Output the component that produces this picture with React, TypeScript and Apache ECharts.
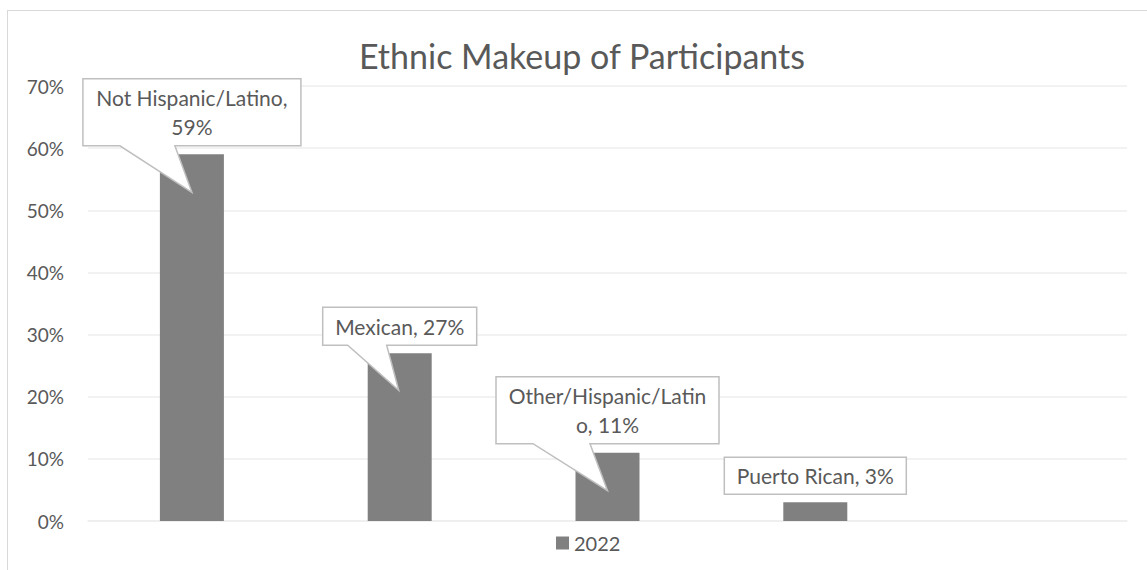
import React, { useEffect, useRef } from "react";
import * as echarts from "echarts";

const categories = ["Not Hispanic/Latino", "Mexican", "Other/Hispanic/Latino", "Puerto Rican", ""];
const values2022: (number | null)[] = [59, 27, 11, 3, null];
const seriesName = "2022";
const yTicks = { min: 0, max: 70, interval: 10 };

// callout layout relative to the top-centre of each bar (px)
const calloutLayout = [
  { box: [-109, -75.6, 218, 67], wedge: [-72, -17], tip: [0, 38], wrapAt: 20 },
  { box: [-77, -46, 154, 38], wedge: [-52, -13], tip: [-1, 37], wrapAt: 0 },
  { box: [-111.5, -76, 223, 67], wedge: [-74.5, -17.5], tip: [0, 38], wrapAt: 20 },
  { box: [-91, -45, 182, 37], wedge: null, tip: null, wrapAt: 0 },
];

const FONT = "Lato, 'Open Sans', sans-serif";
const TEXT = "#595959";

function labelText(i: number) {
  const full = `${categories[i]}, ${values2022[i]}%`;
  const w = calloutLayout[i].wrapAt;
  if (!w) return full;
  return full.slice(0, w) + "\n" + full.slice(w).replace(/^\s+/, "");
}

export default function App() {
  const ref = useRef<HTMLDivElement>(null);
  useEffect(() => {
    if (!ref.current) return;
    const chart = echarts.init(ref.current, undefined, { renderer: "svg" });
    const calloutData = values2022
      .map((v, i) => (v == null ? null : [i, v]))
      .filter((d) => d != null) as number[][];
    chart.setOption({
      animation: false,
      title: {
        text: "Ethnic Makeup of Participants",
        left: 577,
        top: 33,
        textAlign: "center",
        textStyle: { fontSize: 34, fontWeight: "normal", color: TEXT, fontFamily: FONT },
      },
      legend: {
        data: [seriesName],
        left: 551,
        top: 528,
        icon: "rect",
        itemWidth: 13,
        itemHeight: 13,
        textStyle: { fontSize: 20, color: TEXT, fontFamily: FONT },
      },
      grid: { left: 88, right: 20, top: 86, bottom: 49, containLabel: false },
      xAxis: {
        type: "category",
        data: categories,
        axisLabel: { show: false },
        axisTick: { show: false },
        axisLine: { show: true, lineStyle: { color: "#eeeeee", width: 1.5 } },
      },
      yAxis: {
        type: "value",
        min: yTicks.min,
        max: yTicks.max,
        interval: yTicks.interval,
        axisLabel: { formatter: "{value}%", fontSize: 19, color: TEXT, fontFamily: FONT, margin: 24 },
        axisLine: { show: false },
        axisTick: { show: false },
        splitLine: { lineStyle: { color: "#eeeeee", width: 1.5 } },
      },
      series: [
        {
          name: seriesName,
          type: "bar",
          data: values2022,
          barWidth: 64,
          itemStyle: { color: "#808080" },
          z: 2,
        },
        {
          type: "custom",
          name: "callouts",
          coordinateSystem: "cartesian2d",
          data: calloutData,
          z: 5,
          silent: true,
          clip: false,
          renderItem: (params: any, api: any) => {
            const idx = params.dataIndex;
            const pt = api.coord([api.value(0), api.value(1)]);
            const L = calloutLayout[idx];
            const [bx, by, bw, bh] = L.box;
            const x0 = pt[0] + bx;
            const y0 = pt[1] + by;
            const x1 = x0 + bw;
            const y1 = y0 + bh;
            const points: number[][] = [[x0, y0], [x1, y0], [x1, y1]];
            if (L.wedge && L.tip) {
              points.push([pt[0] + L.wedge[1], y1]);
              points.push([pt[0] + L.tip[0], pt[1] + L.tip[1]]);
              points.push([pt[0] + L.wedge[0], y1]);
            }
            points.push([x0, y1]);
            return {
              type: "group",
              children: [
                {
                  type: "polygon",
                  shape: { points },
                  style: { fill: "#ffffff", stroke: "#bfbfbf", lineWidth: 1.5 },
                },
                {
                  type: "text",
                  style: {
                    text: labelText(idx),
                    x: (x0 + x1) / 2,
                    y: (y0 + y1) / 2,
                    align: "center",
                    verticalAlign: "middle",
                    fontSize: 21,
                    fontFamily: FONT,
                    fill: TEXT,
                    lineHeight: 29,
                  },
                },
              ],
            };
          },
        },
      ],
    });
    return () => chart.dispose();
  }, []);

  return (
    <div style={{ position: "fixed", left: 0, top: 0, width: 1147, height: 570, background: "#fff", overflow: "hidden" }}>
      <div
        style={{
          position: "absolute",
          left: 7,
          top: 10,
          width: 1200,
          height: 600,
          border: "1.5px solid #d9d9d9",
        }}
      />
      <div ref={ref} style={{ position: "absolute", left: 0, top: 0, width: 1147, height: 570 }} />
    </div>
  );
}
